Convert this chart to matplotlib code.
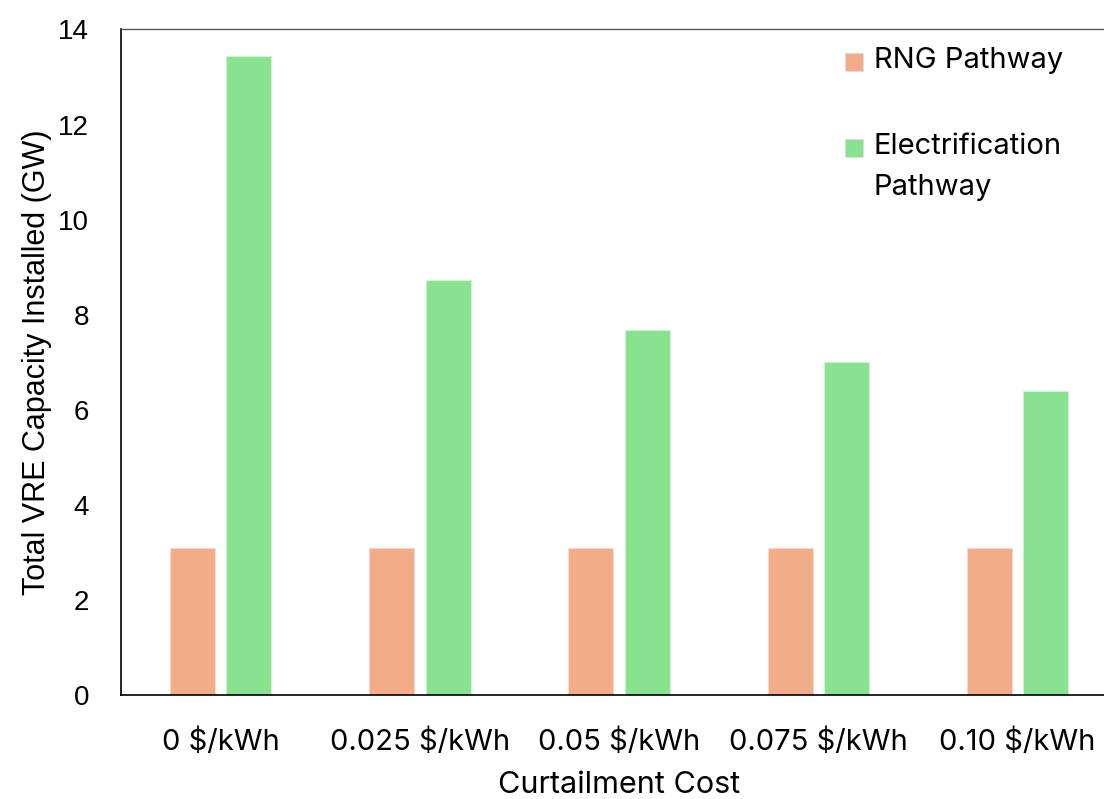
import numpy as np
import matplotlib
matplotlib.use('Agg')
import matplotlib.pyplot as plt
from matplotlib.patches import Rectangle

# curtailment cost cases and installed VRE capacity (GW)
categories = ['0 $/kWh', '0.025 $/kWh', '0.05 $/kWh', '0.075 $/kWh', '0.10 $/kWh']
rng_pathway = [3.1, 3.1, 3.1, 3.1, 3.1]
elec_pathway = [13.45, 8.74, 7.68, 7.01, 6.4]
y_ticks = [0, 2, 4, 6, 8, 10, 12, 14]
series_names = ['RNG Pathway', 'Electrification\nPathway']
series_colors = ['#F2AC88', '#88E290']

plt.rcParams['font.family'] = ['Liberation Sans', 'DejaVu Sans']
side_font = ['Inter', 'DejaVu Sans']

W, H = 1104, 799
fig = plt.figure(figsize=(W / 100, H / 100), dpi=100)
ax = fig.add_axes([0.1096, 0.1302, 0.9024, 0.8329])

x = np.arange(len(categories))
w = 0.226
off = 0.142
ax.bar(x - off, rng_pathway, w, color=series_colors[0], edgecolor='#F4D9CC', linewidth=0.8)
ax.bar(x + off, elec_pathway, w, color=series_colors[1], edgecolor='#D2F2D4', linewidth=0.8)

ax.set_xlim(-0.5, 4.5)
ax.set_ylim(0, 14)
ax.set_yticks(y_ticks)
ax.set_xticks(x)
ax.set_xticklabels(categories, family=side_font)
ax.tick_params(axis='y', length=0, pad=23, labelsize=20)
ax.tick_params(axis='x', length=0, pad=24, labelsize=21)
for s in ['left', 'bottom']:
    ax.spines[s].set_linewidth(1.2)
ax.spines['top'].set_color('#555555')
ax.spines['top'].set_linewidth(1.0)

ax.set_ylabel('Total VRE Capacity Installed (GW)', fontsize=22, labelpad=4)
ax.set_xlabel('Curtailment Cost', fontsize=22, labelpad=11, family=side_font)

# legend drawn by hand so the handle sits on the first text line
leg_rows = [62, 148]
for name, col, py in zip(series_names, series_colors, leg_rows):
    fig.patches.append(Rectangle((845 / W, 1 - (py + 9) / H), 18 / W, 18 / H,
                                 transform=fig.transFigure, facecolor=col,
                                 edgecolor='#dddddd', linewidth=0.5))
    fig.text(874 / W, 1 - (py - 15) / H, name, fontsize=21, family=side_font,
             va='top', ha='left', linespacing=1.68)

fig.savefig('out.png', dpi=100)
